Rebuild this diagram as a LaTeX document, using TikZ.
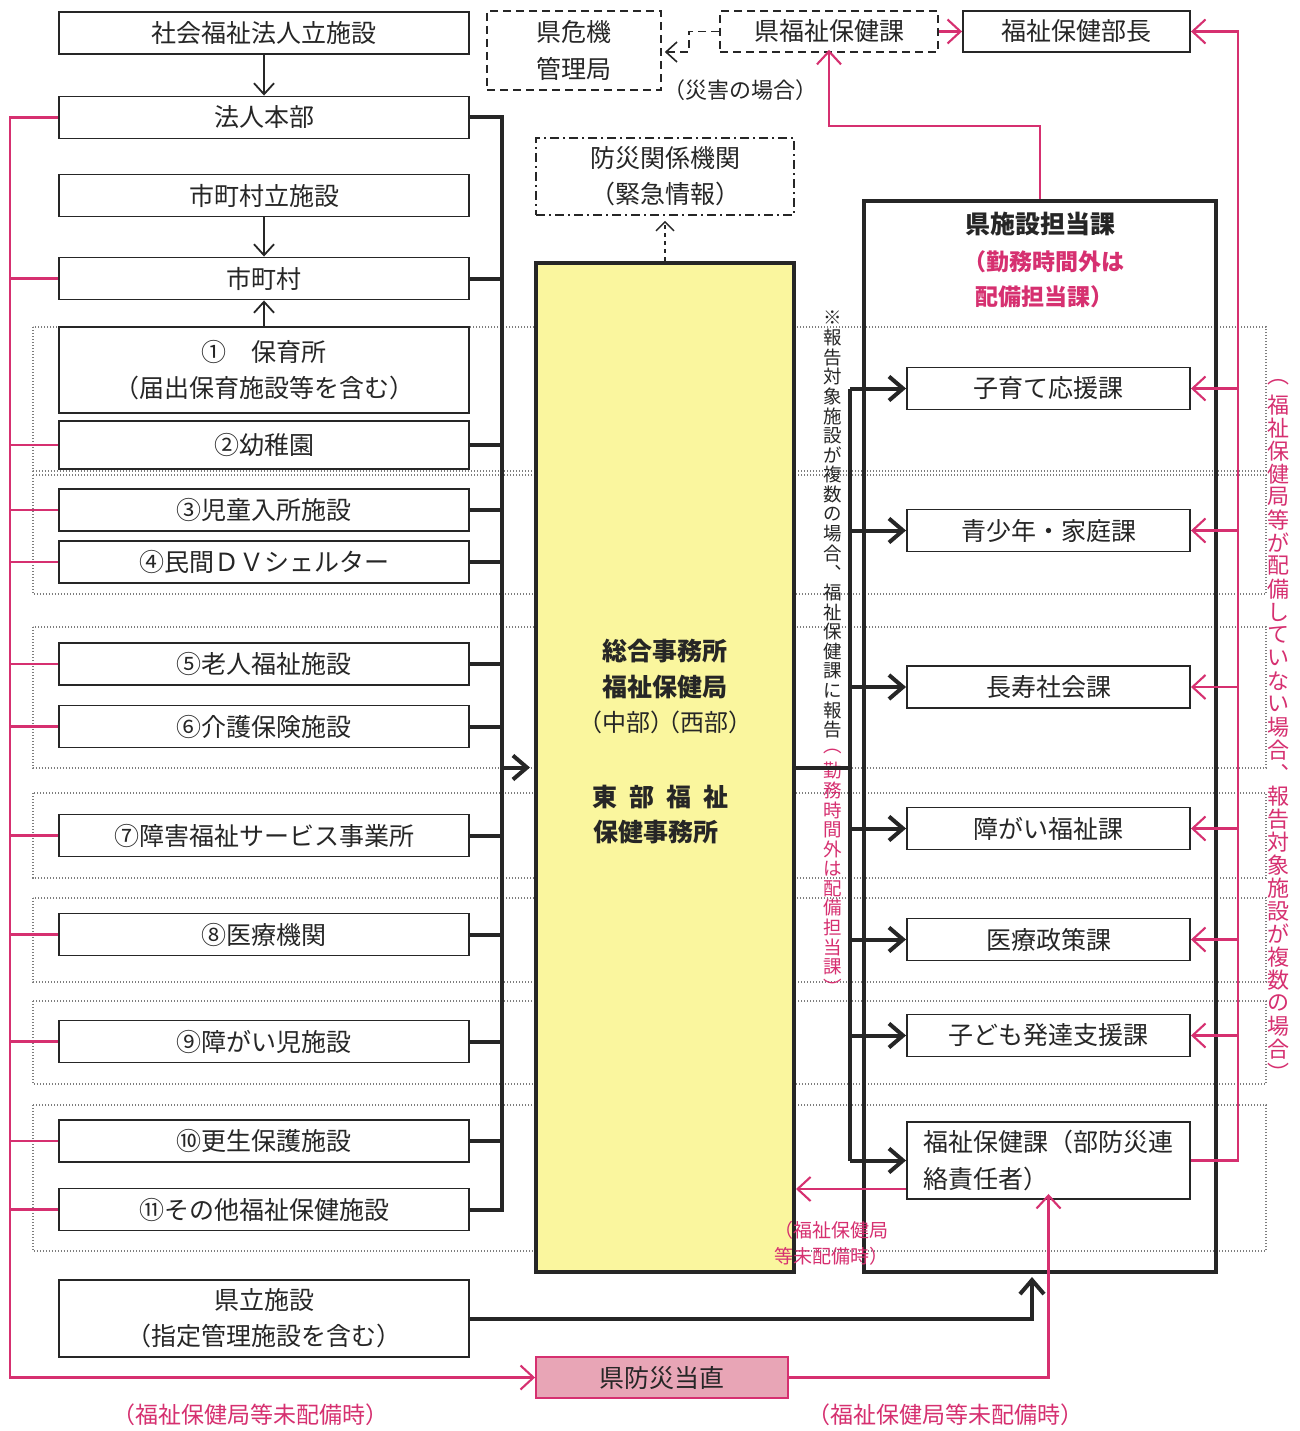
\documentclass[tikz,border=0pt]{standalone}
\usepackage{fontspec}
\setmainfont{Noto Sans CJK JP}
\newfontfamily\jphalt[RawFeature=+halt]{Noto Sans CJK JP}
\usetikzlibrary{arrows.meta}
\definecolor{pk}{RGB}{214,48,112}
\definecolor{yel}{RGB}{250,246,158}
\definecolor{pkfill}{RGB}{232,165,182}
\definecolor{dotgray}{RGB}{125,125,125}
\definecolor{ink}{RGB}{38,38,38}
\newcommand\fsz[2]{\fontsize{#1}{#2}\selectfont}
\begin{document}
\begin{tikzpicture}[x=1pt,y=-1pt,
  lbox/.style={draw=ink, line width=1.9pt, fill=white, minimum width=410pt, minimum height=42pt, inner sep=0pt, font=\fsz{25}{36}, text=ink, align=center},
  rbox/.style={draw=ink, line width=1.9pt, fill=white, minimum width=283pt, minimum height=42pt, inner sep=0pt, font=\fsz{25}{37}, text=ink},
  dbox/.style={draw=ink, line width=1.6pt, dash pattern=on 8pt off 5pt, inner sep=0pt, text=ink},
  grp/.style={draw=dotgray, line width=1.1pt, dash pattern=on 1.1pt off 1.9pt},
  bus/.style={draw=ink, line width=4pt},
  pline/.style={draw=pk, line width=2.1pt},
  parr/.style={pline, -{Straight Barb[length=13pt,width=24pt,line width=2.1pt]}},
  barr/.style={bus, -{Straight Barb[length=14pt,width=24pt,line width=4pt]}},
  tarr/.style={draw=ink, line width=1.8pt, -{Straight Barb[length=11pt,width=20pt,line width=1.8pt]}},
  ptext/.style={text=pk, font=\fsz{23}{28}, inner sep=0pt},
  vch/.style={inner sep=0pt, font=\fsz{18.5}{18.5}, text=ink},
  ]
\useasboundingbox (0,0) rectangle (1299,1431);
\fill[white] (0,0) rectangle (1299,1431);

% dotted groups
\foreach \a/\b [count=\k] in {327/471, 475/594, 627/768, 793/878, 898/982, 1001/1084, 1105/1251}
  \draw[grp] (33,\a) rectangle (1266,\b);

% coordinates of buses
\coordinate (bl) at (502,0);
\coordinate (br) at (850,0);
\coordinate (pl) at (10,0);
\coordinate (pr) at (1238,0);

% left column
\node[lbox] (shakai) at (264,33) {社会福祉法人立施設};
\node[lbox] (hojin) at (264,117.5) {法人本部};
\node[lbox] (shison) at (264,195.5) {市町村立施設};
\node[lbox] (shi) at (264,278.5) {市町村};
\node[lbox, minimum height=86pt] (f1) at (264,370) {①　保育所\\{\jphalt （届出保育施設等を含む）}};
\node[lbox, minimum height=48pt] (f2) at (264,445) {②幼稚園};
\node[lbox] (f3) at (264,510) {③児童入所施設};
\node[lbox] (f4) at (264,562) {④民間ＤＶシェルター};
\node[lbox] (f5) at (264,664) {⑤老人福祉施設};
\node[lbox] (f6) at (264,726.5) {⑥介護保険施設};
\node[lbox] (f7) at (264,835.5) {⑦障害福祉サービス事業所};
\node[lbox] (f8) at (264,934.5) {⑧医療機関};
\node[lbox] (f9) at (264,1041.5) {⑨障がい児施設};
\node[lbox] (f10) at (264,1141) {⑩更生保護施設};
\node[lbox] (f11) at (264,1209.5) {⑪その他福祉保健施設};
\node[lbox, minimum height=77pt] (kenritsu) at (264,1318.5) {県立施設\\{\jphalt （指定管理施設を含む）}};

% top
\node[dbox, minimum width=174pt, minimum height=79pt, align=center, font=\fsz{25}{37}] (kiki) at (574,50.5) {県危機\\管理局};
\node[dbox, minimum width=218pt, minimum height=41pt, font=\fsz{25}{30}] (kfh) at (829,31.5) {県福祉保健課};
\node[draw=ink, line width=1.9pt, minimum width=227pt, minimum height=41pt, inner sep=0pt, font=\fsz{25}{30}, text=ink] (bucho) at (1076.5,31.5) {福祉保健部長};
\node[inner sep=0pt, font=\fsz{22}{26}, text=ink] (saigai) at (740,90) {（災害の場合）};
\node[draw=ink, line width=1.6pt, dash pattern=on 9pt off 4pt on 2pt off 4pt, minimum width=258pt, minimum height=77pt, inner sep=0pt, align=center, font=\fsz{25}{36}, text=ink] (bosai) at (665,176.5) {防災関係機関\\（緊急情報）};

% yellow box
\node[draw=ink, line width=4pt, fill=yel, minimum width=258pt, minimum height=1009pt, inner sep=0pt] (yel) at (665,767.5) {};
\node[font=\bfseries\fsz{25}{30}, text=ink, inner sep=0pt] (y1) at (665,651) {総合事務所};
\node[font=\bfseries\fsz{25}{30}, text=ink, inner sep=0pt] (y2) at (665,687) {福祉保健局};
\node[font=\fsz{24}{30}\jphalt, text=ink, inner sep=0pt] (y3) at (665,722) {（中部）\hspace{6pt}（西部）};
\node[font=\bfseries\fsz{25}{30}, text=ink, inner sep=0pt] (y4) at (660,797) {東\hspace{12pt}部\hspace{12pt}福\hspace{12pt}祉};
\node[font=\bfseries\fsz{25}{30}, text=ink, inner sep=0pt] (y5) at (656,832) {保健事務所};

% big right box
\node[draw=ink, line width=4pt, minimum width=352pt, minimum height=1071pt, inner sep=0pt] (kenshi) at (1040,736.5) {};
\node[font=\bfseries\fsz{25}{30}, text=ink, inner sep=0pt] (t1) at (1040,224) {県施設担当課};
\node[font=\bfseries\fsz{23}{30}, text=pk, inner sep=0pt] (t2) at (1044,262) {（勤務時間外は};
\node[font=\bfseries\fsz{23}{30}, text=pk, inner sep=0pt] (t3) at (1044,297) {配備担当課）};

% right boxes
\node[rbox] (r1) at (1048.5,388.5) {子育て応援課};
\node[rbox] (r2) at (1048.5,530.5) {青少年・家庭課};
\node[rbox] (r3) at (1048.5,687) {長寿社会課};
\node[rbox] (r4) at (1048.5,828.5) {障がい福祉課};
\node[rbox] (r5) at (1048.5,939.5) {医療政策課};
\node[rbox] (r6) at (1048.5,1035.5) {子ども発達支援課};
\node[rbox, minimum height=77pt, align=left] (r7) at (1048.5,1160.5) {福祉保健課（部防災連\\絡責任者）};

% bottom pink box
\node[draw=pk, line width=1.9pt, fill=pkfill, minimum width=252pt, minimum height=41pt, inner sep=0pt, font=\fsz{25}{30}, text=ink] (toku) at (662,1377.5) {県防災当直};

% labels
\node[ptext] (lab1) at (250,1415) {（福祉保健局等未配備時）};
\node[ptext] (lab2) at (945,1415) {（福祉保健局等未配備時）};
\node[text=pk, font=\fsz{19}{26}, align=left, anchor=west, inner sep=0pt] (lab3) at (774,1243) {（福祉保健局\\等未配備時）};

% vertical texts
\foreach \c [count=\i] in {※,報,告,対,象,施,設,が,複,数,の,場,合,︑,福,祉,保,健,課,に,報,告}
  \node[vch] (vm\i) at (833,{318+19.6*(\i-1)}) {\c};
\foreach \c [count=\i from 23] in {︵,勤,務,時,間,外,は,配,備,担,当,課,︶}
  \node[vch, text=pk] (vm\i) at (833,{320+19.6*(\i-1)}) {\c};
\foreach \c [count=\i] in {︵,福,祉,保,健,局,等,が,配,備,し,て,い,な,い,場,合,︑,報,告,対,象,施,設,が,複,数,の,場,合,︶}
  \node[vch, text=pk, font=\fsz{22}{22}] (vr\i) at (1278,{382+23.0*(\i-1)}) {\c};

% thin black arrows
\draw[tarr] (shakai) -- (hojin);
\draw[tarr] (shison) -- (shi);
\draw[tarr] (f1) -- (shi);

% left black bus
\draw[bus] (hojin.east) -- (hojin.east -| bl) -- (f11.east -| bl) -- (f11.east);
\foreach \n in {shi,f2,f3,f4,f5,f6,f7,f8,f9,f10}
  \draw[bus] (\n.east) -- (\n.east -| bl);
\draw[barr, shorten >=4pt] (bl |- yel.west) -- (yel.west);

% right black bus
\draw[bus] (yel.east) -- (yel.east -| br);
\draw[bus] (br |- r1.west) -- (br |- r7.west);
\foreach \n in {r1,r2,r3,r4,r5,r6,r7}
  \draw[barr] (br |- \n.west) -- (\n.west);

% kenritsu to big box
\draw[barr, shorten >=3pt] (kenritsu.east) -| ([xshift=-8pt]kenshi.south);

% left pink
\draw[parr] (hojin.west) -| (pl |- toku.west) -- (toku.west);
\foreach \n in {shi,f2,f3,f4,f5,f6,f7,f8,f9,f10,f11}
  \draw[pline] (\n.west) -- (\n.west -| pl);

% pink from toku to r7
\draw[parr, shorten >=-6pt] (toku.east) -| (r7.south);

% right pink
\draw[parr] (r7.east) -| (pr |- bucho.east) -- (bucho.east);
\foreach \n in {r1,r2,r3,r4,r5,r6}
  \draw[parr] (pr |- \n.east) -- (\n.east);
\draw[parr] ([yshift=-28.5pt]r7.west) -- ([yshift=-28.5pt]r7.west -| yel.east);

% pink from big box to kfh
\draw[parr, shorten >=-3pt] (kenshi.north) -- ++(0,-73) -| (kfh.south);
\draw[parr] (kfh.east) -- (bucho.west);

% dashed arrows
\draw[draw=ink, line width=1.6pt, dash pattern=on 8pt off 5pt, -{Straight Barb[length=11pt,width=20pt,line width=1.6pt]}, shorten >=3pt] (kfh.west) -- ++(-30,0) |- ([yshift=-1.5pt]kiki.east);
\draw[draw=ink, line width=1.4pt, dash pattern=on 4pt off 4pt, -{Straight Barb[length=9pt,width=18pt,line width=1.4pt]}, shorten >=5pt] (yel.north) -- (bosai.south);
\end{tikzpicture}
\end{document}
